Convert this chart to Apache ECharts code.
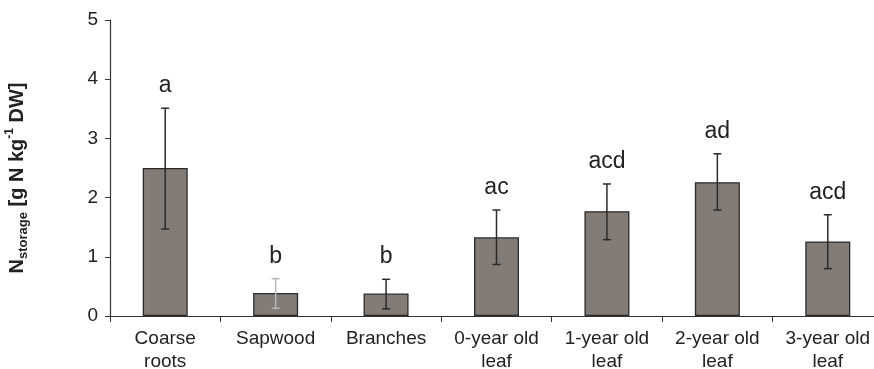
<!DOCTYPE html>
<html>
<head>
<meta charset="utf-8">
<script src="https://cdn.jsdelivr.net/npm/echarts@6/dist/echarts.min.js"></script>
<style>
  html, body { margin: 0; padding: 0; background: #fff; }
  #chart { width: 874px; height: 369px; }
</style>
</head>
<body>
<div id="chart"></div>
<script>
// Tissue categories and nitrogen storage means with error bar extents
const categories = ['Coarse\nroots', 'Sapwood', 'Branches', '0-year old\nleaf', '1-year old\nleaf', '2-year old\nleaf', '3-year old\nleaf'];
const means = [2.50, 0.39, 0.38, 1.33, 1.77, 2.26, 1.26];
const errLow = [1.47, 0.13, 0.12, 0.87, 1.29, 1.79, 0.80];
const errHigh = [3.51, 0.63, 0.62, 1.79, 2.23, 2.74, 1.71];
const letters = ['a', 'b', 'b', 'ac', 'acd', 'ad', 'acd'];
const yTicks = [0, 1, 2, 3, 4, 5];

const FONT = 'Liberation Sans, Arial, sans-serif';
const chart = echarts.init(document.getElementById('chart'));

const errData = means.map((m, i) => [i, errLow[i], errHigh[i], letters[i]]);

chart.setOption({
  animation: false,
  grid: { left: 110, top: 20, width: 773, height: 296, containLabel: false, outerBoundsMode: 'none' },
  xAxis: {
    type: 'category',
    data: categories,
    axisLine: { lineStyle: { color: '#333', width: 1.2 } },
    axisTick: { show: true, length: 6, lineStyle: { color: '#333' } },
    axisLabel: { color: '#222', fontFamily: FONT, fontSize: 19, lineHeight: 23, margin: 11, interval: 0 }
  },
  yAxis: {
    type: 'value',
    min: yTicks[0],
    max: yTicks[yTicks.length - 1],
    interval: 1,
    splitLine: { show: false },
    axisLine: { show: true, lineStyle: { color: '#333', width: 1.2 } },
    axisTick: { show: true, length: 5, lineStyle: { color: '#333' } },
    axisLabel: { color: '#222', fontFamily: FONT, fontSize: 19, margin: 12 },
    name: '{b|N}{sub|storage}{b| [g N kg}{sup|-1}{b| DW]}',
    nameLocation: 'middle',
    nameRotate: 90,
    nameGap: 80,
    nameTextStyle: {
      padding: [0, 20, 0, 0],
      rich: {
        b: { fontFamily: FONT, fontWeight: 'bold', fontSize: 20, color: '#222', verticalAlign: 'middle', lineHeight: 26 },
        sub: { fontFamily: FONT, fontWeight: 'bold', fontSize: 13, color: '#222', verticalAlign: 'bottom', lineHeight: 26, padding: [11, 0, 0, 0] },
        sup: { fontFamily: FONT, fontWeight: 'bold', fontSize: 12, color: '#222', verticalAlign: 'top', lineHeight: 26, padding: [0, 0, 11, 0] }
      }
    }
  },
  series: [
    {
      type: 'bar',
      data: means,
      barWidth: 45,
      itemStyle: { color: '#827b76', borderColor: '#2b2b2b', borderWidth: 1.3 },
      z: 2
    },
    {
      type: 'custom',
      data: errData,
      z: 3,
      renderItem: function (params, api) {
        const i = api.value(0);
        const lo = api.coord([i, api.value(1)]);
        const hi = api.coord([i, api.value(2)]);
        const cap = 4;
        const color = i === 1 ? '#b8b8b8' : '#2b2b2b';
        const style = { stroke: color, lineWidth: 1.5 };
        return {
          type: 'group',
          children: [
            { type: 'line', shape: { x1: hi[0], y1: hi[1], x2: lo[0], y2: lo[1] }, style: style },
            { type: 'line', shape: { x1: hi[0] - cap, y1: hi[1], x2: hi[0] + cap, y2: hi[1] }, style: style },
            { type: 'line', shape: { x1: lo[0] - cap, y1: lo[1], x2: lo[0] + cap, y2: lo[1] }, style: style },
            {
              type: 'text',
              x: hi[0],
              y: hi[1] - 11,
              style: {
                text: api.value(3),
                fill: '#222',
                font: '23px ' + FONT,
                align: 'center',
                verticalAlign: 'bottom'
              }
            }
          ]
        };
      }
    }
  ]
});
</script>
</body>
</html>
